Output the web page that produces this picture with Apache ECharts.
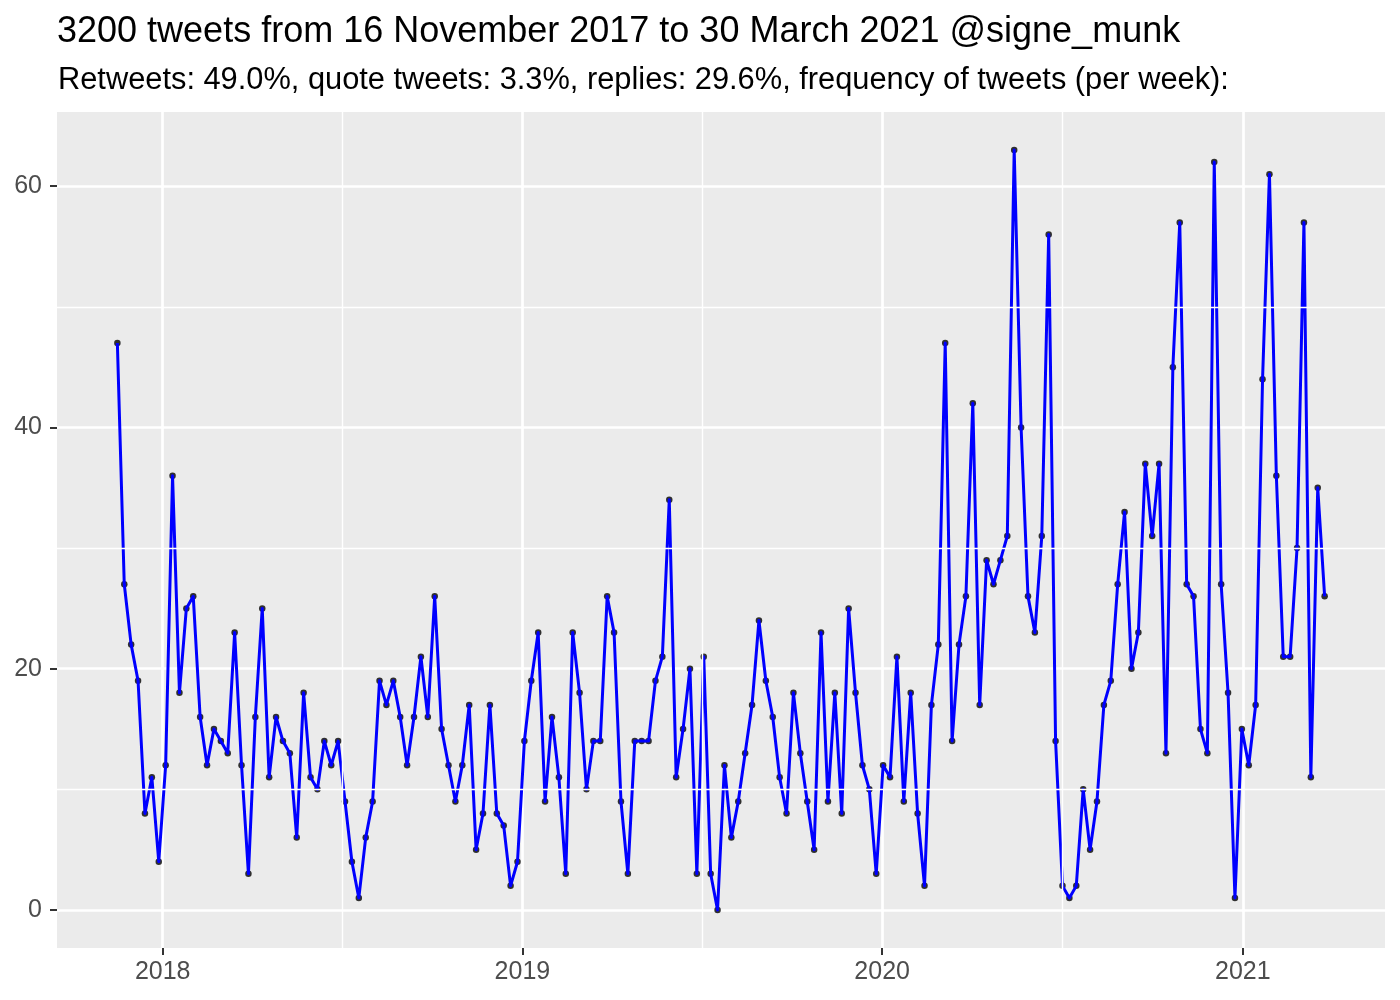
<!DOCTYPE html>
<html>
<head>
<meta charset="utf-8">
<title>Tweets per week @signe_munk</title>
<script src="https://cdn.jsdelivr.net/npm/echarts@6/dist/echarts.min.js"></script>
<style>
  html, body { margin: 0; padding: 0; background: #fff; }
  #chart { width: 1400px; height: 1000px; }
</style>
</head>
<body>
<div id="chart"></div>
<script>
// weekly counts, one value per week starting at firstWeek
const firstWeek = [2017, 11, 16]
const tweetsPerWeek = [
  47, 27, 22, 19, 8, 11, 4, 12, 36, 18, 25, 26, 16, 12, 15, 14, 13, 23, 12, 3,
  16, 25, 11, 16, 14, 13, 6, 18, 11, 10, 14, 12, 14, 9, 4, 1, 6, 9, 19, 17,
  19, 16, 12, 16, 21, 16, 26, 15, 12, 9, 12, 17, 5, 8, 17, 8, 7, 2, 4, 14,
  19, 23, 9, 16, 11, 3, 23, 18, 10, 14, 14, 26, 23, 9, 3, 14, 14, 14, 19, 21,
  34, 11, 15, 20, 3, 21, 3, 0, 12, 6, 9, 13, 17, 24, 19, 16, 11, 8, 18, 13,
  9, 5, 23, 9, 18, 8, 25, 18, 12, 10, 3, 12, 11, 21, 9, 18, 8, 2, 17, 22,
  47, 14, 22, 26, 42, 17, 29, 27, 29, 31, 63, 40, 26, 23, 31, 56, 14, 2, 1, 2,
  10, 5, 9, 17, 19, 27, 33, 20, 23, 37, 31, 37, 13, 45, 57, 27, 26, 15, 13, 62,
  27, 18, 1, 15, 12, 17, 44, 61, 36, 21, 21, 30, 57, 11, 35, 26
]
const yearTicks = [2018, 2019, 2020, 2021]
const countTicks = [0, 20, 40, 60]
const countMinor = [10, 30, 50]

const titleText = '3200 tweets from 16 November 2017 to 30 March 2021 @signe_munk'
const subtitleText = 'Retweets: 49.0%, quote tweets: 3.3%, replies: 29.6%, frequency of tweets (per week):'

const font = 'Liberation Sans'

// week dates as timestamps (x is a plain value axis in ms)
const points = tweetsPerWeek.map((v, i) => {
  const d = new Date(firstWeek[0], firstWeek[1] - 1, firstWeek[2] + 7 * i)
  return [d.getTime(), v]
})

// ggplot style 5% padding around the data range
const tFirst = points[0][0]
const tLast = points[points.length - 1][0]
const xPad = (tLast - tFirst) * 0.05
const yMaxData = Math.max(...tweetsPerWeek)
const yMinData = Math.min(...tweetsPerWeek)
const yPad = (yMaxData - yMinData) * 0.05

const yearValues = yearTicks.map((y) => new Date(y, 0, 1).getTime())
// minor breaks sit half way between the year breaks
const yearMinor = yearValues.slice(1).map((v, i) => (v + yearValues[i]) / 2)

const chart = echarts.init(document.getElementById('chart'))

chart.setOption({
  animation: false,
  backgroundColor: '#fff',
  title: [
    {
      text: titleText,
      left: 57,
      top: 14,
      padding: 0,
      textStyle: { fontFamily: font, fontSize: 36, fontWeight: 'normal', color: '#000' },
    },
    {
      text: subtitleText,
      left: 58,
      top: 65,
      padding: 0,
      textStyle: { fontFamily: font, fontSize: 30.8, fontWeight: 'normal', color: '#000' },
    },
  ],
  grid: {
    left: 57,
    right: 15,
    top: 112,
    bottom: 52,
    show: true,
    backgroundColor: '#EBEBEB',
    borderWidth: 0,
  },
  xAxis: {
    type: 'value',
    min: tFirst - xPad,
    max: tLast + xPad,
    axisLine: { show: false, onZero: false },
    axisTick: {
      show: true,
      length: 7,
      customValues: yearValues,
      lineStyle: { color: '#333333', width: 2 },
    },
    axisLabel: {
      customValues: yearValues,
      formatter: (v) => String(new Date(v).getFullYear()),
      margin: 12,
      fontFamily: font,
      fontSize: 25,
      color: '#4D4D4D',
    },
    splitLine: { show: true, lineStyle: { color: '#fff', width: 2.7 } },
  },
  yAxis: {
    type: 'value',
    min: yMinData - yPad,
    max: yMaxData + yPad,
    axisLine: { show: false, onZero: false },
    axisTick: {
      show: true,
      length: 7,
      customValues: countTicks,
      lineStyle: { color: '#333333', width: 2 },
    },
    axisLabel: {
      customValues: countTicks,
      margin: 15,
      fontFamily: font,
      fontSize: 25,
      color: '#4D4D4D',
    },
    splitLine: { show: true, lineStyle: { color: '#fff', width: 2.7 } },
  },
  series: [
    {
      // minor grid lines only
      type: 'line',
      data: [],
      z: 1,
      silent: true,
      markLine: {
        silent: true,
        symbol: ['none', 'none'],
        label: { show: false },
        emphasis: { disabled: true },
        lineStyle: { color: '#fff', width: 1.4, type: 'solid' },
        data: [
          ...yearMinor.map((v) => ({ xAxis: v })),
          ...countMinor.map((v) => ({ yAxis: v })),
        ],
      },
    },
    {
      // points go under the line, like geom_point before geom_line
      type: 'scatter',
      data: points,
      z: 2,
      symbol: 'circle',
      symbolSize: 6.5,
      itemStyle: { color: '#000' },
      emphasis: { disabled: true },
    },
    {
      type: 'line',
      data: points,
      z: 3,
      symbol: 'none',
      lineStyle: { color: '#0000FF', width: 3, join: 'round' },
      emphasis: { disabled: true },
    },
  ],
})
</script>
</body>
</html>
